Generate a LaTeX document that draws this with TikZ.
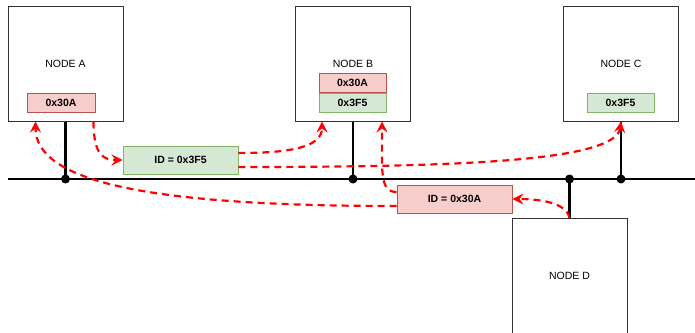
\documentclass[tikz,border=0pt]{standalone}
\usepackage{fontspec}
\setmainfont{Liberation Sans}
\usetikzlibrary{arrows.meta}
\definecolor{idred}{HTML}{F8CECC}
\definecolor{idredline}{HTML}{B85450}
\definecolor{idgreen}{HTML}{D5E8D4}
\definecolor{idgreenline}{HTML}{82B366}

\begin{document}
\begin{tikzpicture}[x=1pt,y=-1pt,
				font=\fontsize{10.5}{12}\selectfont,
				ecu/.style={draw=black!80,fill=white,line width=1pt,minimum width=115pt,minimum height=115pt},
				redid/.style={draw=idredline,fill=idred,line width=0.9pt,font=\fontsize{10.5}{12}\selectfont\bfseries,minimum height=19pt},
				greenid/.style={draw=idgreenline,fill=idgreen,line width=0.9pt,font=\fontsize{10.5}{12}\selectfont\bfseries,minimum height=19pt},
				bus/.style={line width=2.4pt,black},
				joint/.style={circle,fill=black,inner sep=0pt,minimum size=9pt},
				msg/.style={red,line width=2.2pt,dash pattern=on 7pt off 5pt,-{Stealth[length=11pt,width=11pt,inset=4pt]}}]
				\useasboundingbox[fill=white] (0,0) rectangle (695,332);
				% nodes on the bus
				\node[ecu] (nodeA) at (65.5,63.5) {NODE A};
				\node[ecu] (nodeB) at (353,63.5) {NODE B};
				\node[ecu] (nodeC) at (621,63.5) {NODE C};
				\node[ecu] (nodeD) at (569.5,276) {NODE D};
				% filter entries
				\node[redid,minimum width=68pt] (filtA) at (61,102.5) {0x30A};
				\node[redid,minimum width=67pt] (filtB1) at (352.5,83) {0x30A};
				\node[greenid,minimum width=67pt] (filtB2) at (352.5,102.5) {0x3F5};
				\node[greenid,minimum width=67pt] (filtC) at (620.5,102.5) {0x3F5};
				% bus
				\coordinate (busL) at (8,179);
				\coordinate (busR) at (695,179);
				\draw[bus] (busL) -- (busR);
				\node[joint] (jA) at (65.5,179) {};
				\node[joint] (jB) at (353,179) {};
				\node[joint] (jD) at (569.5,179) {};
				\node[joint] (jC) at (621,179) {};
				\draw[bus] (nodeA.south) -- (jA.center);
				\draw[bus] (nodeB.south) -- (jB.center);
				\draw[bus] (nodeC.south) -- (jC.center);
				\draw[bus] (nodeD.north) -- (jD.center);
				% messages
				\node[greenid,minimum width=115pt,minimum height=28pt] (id3F5) at (180.5,160) {ID = 0x3F5};
				\node[redid,minimum width=115pt,minimum height=28pt] (id30A) at (454.5,199) {ID = 0x30A};
				\draw[msg] ([xshift=28pt]nodeA.south) .. controls +(0,35) and +(-18,0) .. (id3F5.west);
				\draw[msg] ([yshift=7pt]id3F5.east) .. controls +(55,0) and +(0,25) .. ([xshift=-31pt]nodeB.south);
				\draw[msg] ([yshift=-7pt]id3F5.east) .. controls +(220,0) and +(-5,40) .. (nodeC.south);
				\draw[msg] (nodeD.north) .. controls +(-3,-16) and +(25,0) .. (id30A.east);
				\draw[msg] ([yshift=7pt]id30A.west) .. controls +(-17,0) and +(0,50) .. ([xshift=29pt]nodeB.south);
				\draw[msg] ([yshift=-7pt]id30A.west) .. controls +(-250,0) and +(0,60) .. ([xshift=-30pt]nodeA.south);
\end{tikzpicture}
\end{document}
